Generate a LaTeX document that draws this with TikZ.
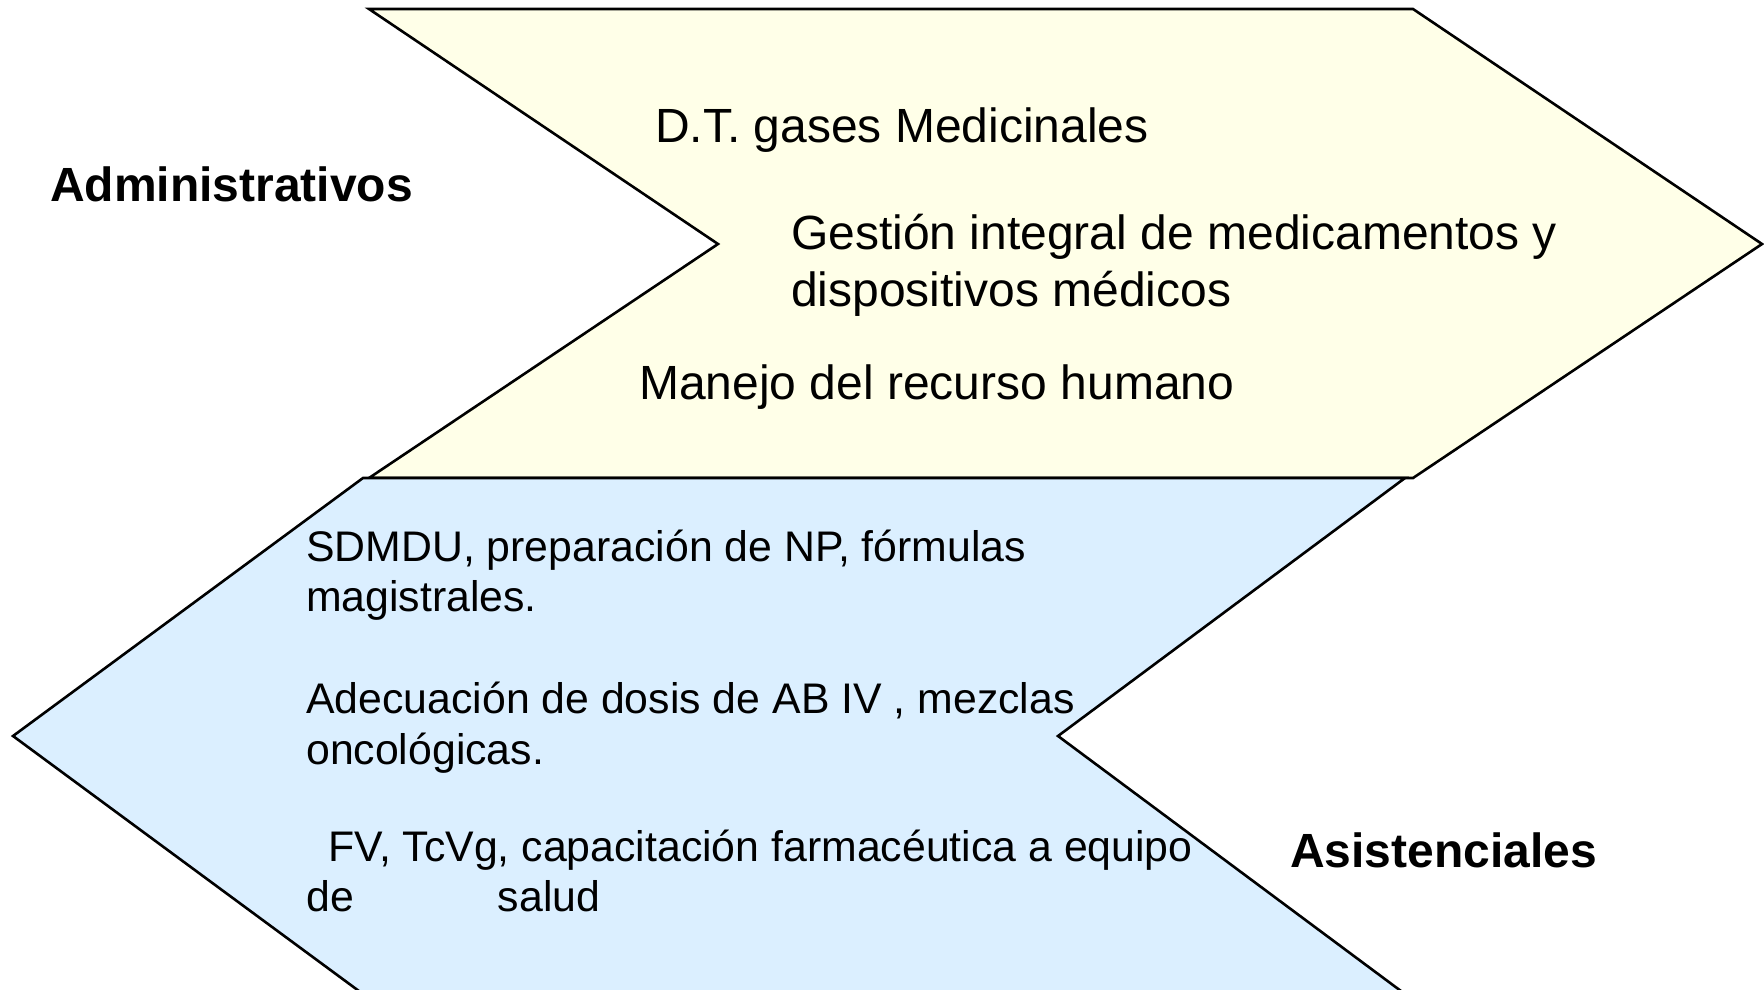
\documentclass[tikz,border=0pt]{standalone}
\usepackage{fontspec}
\setmainfont{Liberation Sans}
\definecolor{adminfill}{HTML}{FFFFE8}
\definecolor{asisfill}{HTML}{DBEFFF}
\begin{document}
\begin{tikzpicture}[x=1pt,y=-1pt,
  chev/.style={draw=black,line width=2.6pt,line join=miter},
  big/.style={anchor=base west,inner sep=0pt,font=\fontsize{48}{57}\selectfont},
  small/.style={anchor=base west,inner sep=0pt,font=\fontsize{42.8}{51}\selectfont},
  head/.style={anchor=base west,inner sep=0pt,font=\fontsize{48}{57}\selectfont\bfseries}]
\useasboundingbox (0,0) rectangle (1764,989);
\begin{scope}
\clip (0,0) rectangle (1764,989);
\fill[white] (0,0) rectangle (1764,989);
\draw[chev,fill=adminfill] (369,9) -- (1413,9) -- (1762,244) -- (1413,478) -- (369,478) -- (718,244) -- cycle;
\draw[chev,fill=asisfill] (363,478) -- (1405,478) -- (1058,736) -- (1405,994) -- (363,994) -- (13,736) -- cycle;
\end{scope}
\node[head] (adm) at (50,201) {Administrativos};
\node[big] (dt) at (655,142) {D.T. gases Medicinales};
\node[big] (g1) at (791,249) {Gestión integral de medicamentos y};
\node[big] (g2) at (791,306) {dispositivos médicos};
\node[big] (man) at (639,399) {Manejo del recurso humano};
\node[small] (s1) at (306,561) {SDMDU, preparación de NP, fórmulas};
\node[small] (s2) at (306,611) {magistrales.};
\node[small] (a1) at (306,713) {Adecuación de dosis de AB IV , mezclas};
\node[small] (a2) at (306,764) {oncológicas.};
\node[small] (f1) at (328,861) {FV, TcVg, capacitación farmacéutica a equipo};
\node[small] (f2) at (306,911) {de\hspace*{144pt}salud};
\node[head] (asis) at (1290,867) {Asistenciales};
\end{tikzpicture}
\end{document}
